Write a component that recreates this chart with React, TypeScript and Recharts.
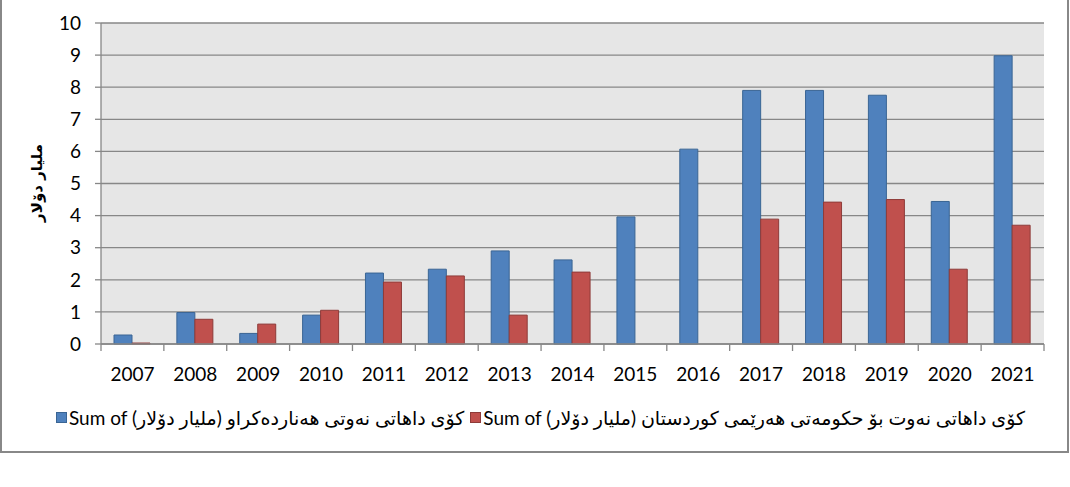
import React from 'react';
import { BarChart, Bar, XAxis, YAxis, CartesianGrid } from 'recharts';

const years = ['2007', '2008', '2009', '2010', '2011', '2012', '2013', '2014', '2015', '2016', '2017', '2018', '2019', '2020', '2021'];
const exportedRevenue = [0.28, 0.98, 0.33, 0.9, 2.21, 2.33, 2.9, 2.62, 3.96, 6.07, 7.9, 7.9, 7.75, 4.44, 8.98];
const krgRevenue = [0.03, 0.77, 0.62, 1.05, 1.93, 2.12, 0.9, 2.24, null, null, 3.89, 4.42, 4.5, 2.33, 3.7];
const yTicks = [0, 1, 2, 3, 4, 5, 6, 7, 8, 9, 10];

const seriesNames = [
  'Sum of کۆی داهاتی نەوتی هەناردەکراو (ملیار دۆلار)',
  'Sum of کۆی داهاتی نەوت بۆ حکومەتی هەرێمی کوردستان (ملیار دۆلار)',
];
const yLabel = 'ملیار دۆلار';

const data = years.map((year, i) => ({
  year,
  exported: exportedRevenue[i],
  krg: krgRevenue[i],
}));

const FONT = "Lato, 'DejaVu Sans', sans-serif";
const GRID = '#878787';
const BLUE = '#4f81bd';
const RED = '#c0504d';

function YearTick(props: any) {
  const { x, y, payload, index, width, visibleTicksCount } = props;
  const bw = width / visibleTicksCount;
  return (
    <g>
      <line x1={x - bw / 2} x2={x - bw / 2} y1={y} y2={y + 7} stroke={GRID} strokeWidth={1.3} />
      {index === visibleTicksCount - 1 && (
        <line x1={x + bw / 2} x2={x + bw / 2} y1={y} y2={y + 7} stroke={GRID} strokeWidth={1.3} />
      )}
      <text x={x} y={y + 37} textAnchor="middle" fontSize={19} fill="#000" fontFamily={FONT}>
        {payload.value}
      </text>
    </g>
  );
}

export default function App() {
  return (
    <div style={{ position: 'absolute', left: 0, top: 0, width: 1070, height: 487, background: '#fff', fontFamily: FONT }}>
      <div
        style={{
          position: 'absolute',
          left: 0,
          top: -3,
          width: 1065,
          height: 452,
          border: '2px solid #888',
        }}
      />
      <div style={{ position: 'absolute', left: 0, top: 0 }}>
        <BarChart
          width={1070}
          height={487}
          data={data}
          margin={{ top: 23, right: 26, left: 0, bottom: 103 }}
          barSize={18}
          barGap={0}
        >
          <CartesianGrid vertical={false} stroke={GRID} strokeWidth={1.3} fill="#e6e6e6" />
          <YAxis
            width={101}
            domain={[0, 10]}
            ticks={yTicks}
            interval={0}
            axisLine={{ stroke: GRID, strokeWidth: 1.3 }}
            tickLine={{ stroke: GRID, strokeWidth: 1.3 }}
            tickSize={6}
            tickMargin={14}
            tick={{ fontSize: 19, fill: '#000', fontFamily: FONT }}
            label={{
              content: () => (
                <text
                  x={37}
                  y={183}
                  transform="rotate(-90, 37, 183)"
                  textAnchor="middle"
                  dominantBaseline="central"
                  fontSize={15}
                  fontWeight="bold"
                  fontFamily="'DejaVu Sans', sans-serif"
                  fill="#000"
                >
                  {yLabel}
                </text>
              ),
            }}
          />
          <XAxis
            dataKey="year"
            height={40}
            interval={0}
            axisLine={{ stroke: GRID, strokeWidth: 1.3 }}
            tickLine={false}
            tickSize={0}
            tickMargin={0}
            tick={<YearTick />}
          />
          <Bar dataKey="exported" name={seriesNames[0]} fill={BLUE} stroke="#3a6594" strokeWidth={1} isAnimationActive={false} />
          <Bar dataKey="krg" name={seriesNames[1]} fill={RED} stroke="#8e3b39" strokeWidth={1} isAnimationActive={false} />
        </BarChart>
      </div>
      <div
        style={{
          position: 'absolute',
          left: 56,
          top: 406,
          display: 'flex',
          alignItems: 'center',
          fontSize: 19,
          color: '#000',
          whiteSpace: 'nowrap',
        }}
      >
        {seriesNames.map((name, i) => (
          <div key={name} style={{ display: 'flex', alignItems: 'center', marginRight: 6 }}>
            <span
              style={{
                display: 'inline-block',
                width: 9,
                height: 9,
                background: i === 0 ? BLUE : RED,
                border: `1px solid ${i === 0 ? '#3a6594' : '#8e3b39'}`,
                marginRight: 2,
              }}
            />
            <span style={{ unicodeBidi: 'plaintext', direction: 'ltr' }}>{name}</span>
          </div>
        ))}
      </div>
    </div>
  );
}
